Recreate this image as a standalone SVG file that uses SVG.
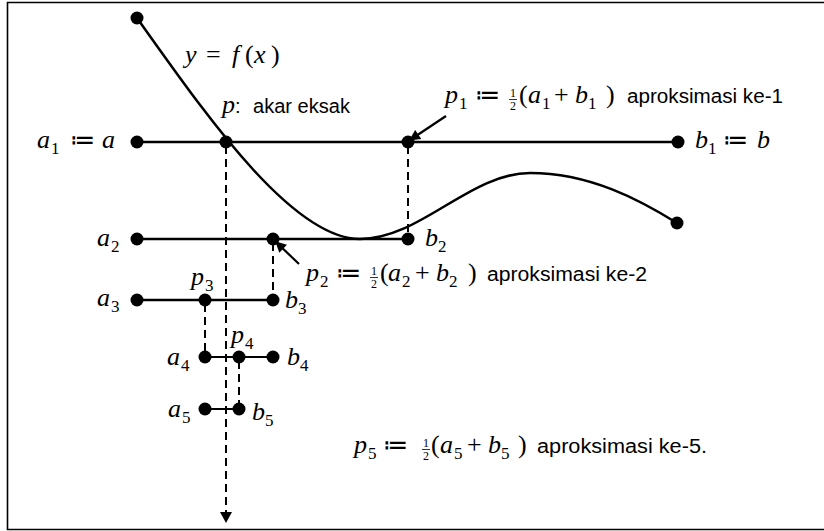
<svg xmlns="http://www.w3.org/2000/svg" width="824" height="531" viewBox="0 0 824 531">
<defs>
<style>
.mi{font-family:"Liberation Serif","DejaVu Serif",serif;font-style:italic;font-size:26px;fill:#000}
.mn{font-family:"Liberation Serif","DejaVu Serif",serif;font-size:26px;fill:#000}
.ce{font-family:"DejaVu Sans","DejaVu Serif",sans-serif;font-size:25px;fill:#000}
.sb{font-family:"Liberation Serif","DejaVu Serif",serif;font-size:17px;fill:#000}
.fr{font-family:"Liberation Serif","DejaVu Serif",serif;font-size:12px;fill:#000}
.s{font-family:"Liberation Sans",Arial,sans-serif;font-size:20px;fill:#000}
.ln{stroke:#000;stroke-width:2.5;fill:none}
.ln2{stroke:#000;stroke-width:2.2;fill:none}
.ds{stroke:#000;stroke-width:2;stroke-dasharray:8 5;fill:none}
.ar{stroke:#000;stroke-width:2.2;fill:none;marker-end:url(#ah)}
.fb{stroke:#000;stroke-width:0.8}
</style>
<marker id="ah" viewBox="0 0 10 10" refX="9" refY="5" markerWidth="13" markerHeight="11" markerUnits="userSpaceOnUse" orient="auto">
<path d="M0,0 L10,5 L0,10 z" fill="#000"/>
</marker>
</defs>
<rect x="0" y="0" width="824" height="531" fill="#fff"/>
<path d="M830,2.5 H7.5 V529.5 H830" fill="none" stroke="#000" stroke-width="1.6"/>

<g id="curve">
<path class="ln" d="M137,18 C200,106 290,239 360,239 C420,239 470,173 530,173 C590,173 640,200 677,223"/>
</g>

<g id="intervals">
<line class="ln" x1="137" y1="142" x2="678" y2="142"/>
<line class="ln" x1="137" y1="239" x2="408" y2="239"/>
<line class="ln" x1="137" y1="300" x2="273" y2="300"/>
<line class="ln2" x1="205" y1="357" x2="273" y2="357"/>
<line class="ln2" x1="205" y1="409" x2="239" y2="409"/>
</g>

<g id="connectors">
<line class="ds" x1="226" y1="146" x2="226" y2="512"/>
<path d="M220,512 L232,512 L226,523 z" fill="#000"/>
<line class="ds" x1="408" y1="146" x2="408" y2="236"/>
<line class="ds" x1="273" y1="243" x2="273" y2="297"/>
<line class="ds" x1="205" y1="304" x2="205" y2="354"/>
<line class="ds" x1="239" y1="361" x2="239" y2="406"/>
<line class="ar" x1="446" y1="116" x2="410" y2="140"/>
<line class="ar" x1="299" y1="264" x2="276" y2="242"/>
</g>

<g id="dots" fill="#000">
<circle cx="137" cy="18" r="6.5"/>
<circle cx="677" cy="223" r="6.5"/>
<circle cx="137" cy="142" r="6.5"/>
<circle cx="226" cy="142" r="6.5"/>
<circle cx="408" cy="142" r="6.5"/>
<circle cx="678" cy="142" r="6.5"/>
<circle cx="137" cy="239" r="6.5"/>
<circle cx="273" cy="239" r="6.5"/>
<circle cx="408" cy="239" r="6.5"/>
<circle cx="137" cy="300" r="6.5"/>
<circle cx="205" cy="300" r="6.5"/>
<circle cx="273" cy="300" r="6.5"/>
<circle cx="205" cy="357" r="6.5"/>
<circle cx="239" cy="357" r="6.5"/>
<circle cx="273" cy="357" r="6.5"/>
<circle cx="205" cy="409" r="6.5"/>
<circle cx="239" cy="409" r="6.5"/>
</g>

<g id="label-fx">
<text class="mi" x="185" y="63">y</text>
<text class="mn" x="206" y="63">=</text>
<text class="mi" x="232" y="63">f</text>
<text class="mn" x="245" y="63">(</text>
<text class="mi" x="254" y="63">x</text>
<text class="mn" x="271" y="63">)</text>
</g>

<g id="label-p">
<text class="mi" x="222" y="113">p</text>
<text class="s" x="235" y="113">:</text>
<text class="s" x="253" y="113" textLength="97" lengthAdjust="spacingAndGlyphs">akar eksak</text>
</g>

<g id="label-a1">
<text class="mi" x="37" y="148">a</text>
<text class="sb" x="51" y="154">1</text>
<text class="ce" x="70" y="148">≔</text>
<text class="mi" x="102" y="148">a</text>
</g>

<g id="label-b1">
<text class="mi" x="695" y="148">b</text>
<text class="sb" x="708" y="154">1</text>
<text class="ce" x="723" y="148">≔</text>
<text class="mi" x="757" y="148">b</text>
</g>

<g id="label-p1">
<text class="mi" x="445" y="103">p</text>
<text class="sb" x="459" y="109">1</text>
<text class="ce" x="475" y="103">≔</text>
<text class="fr" x="510" y="97">1</text>
<line class="fb" x1="509" y1="99.5" x2="517" y2="99.5"/>
<text class="fr" x="510" y="110">2</text>
<text class="mn" x="519" y="103">(</text>
<text class="mi" x="528" y="103">a</text>
<text class="sb" x="542" y="109">1</text>
<text class="mn" x="554" y="103">+</text>
<text class="mi" x="575" y="103">b</text>
<text class="sb" x="588" y="109">1</text>
<text class="mn" x="606" y="103">)</text>
<text class="s" x="627" y="103" textLength="156" lengthAdjust="spacingAndGlyphs">aproksimasi ke-1</text>
</g>

<g id="label-a2">
<text class="mi" x="97" y="246">a</text>
<text class="sb" x="111" y="252">2</text>
</g>
<g id="label-b2">
<text class="mi" x="425" y="246">b</text>
<text class="sb" x="438" y="252">2</text>
</g>

<g id="label-p2">
<text class="mi" x="306" y="281">p</text>
<text class="sb" x="320" y="287">2</text>
<text class="ce" x="336" y="281">≔</text>
<text class="fr" x="371" y="275">1</text>
<line class="fb" x1="370" y1="277.5" x2="378" y2="277.5"/>
<text class="fr" x="371" y="288">2</text>
<text class="mn" x="380" y="281">(</text>
<text class="mi" x="388" y="281">a</text>
<text class="sb" x="402" y="287">2</text>
<text class="mn" x="415" y="281">+</text>
<text class="mi" x="436" y="281">b</text>
<text class="sb" x="449" y="287">2</text>
<text class="mn" x="468" y="281">)</text>
<text class="s" x="487" y="281" textLength="160" lengthAdjust="spacingAndGlyphs">aproksimasi ke-2</text>
</g>

<g id="label-p3">
<text class="mi" x="191" y="285">p</text>
<text class="sb" x="205" y="291">3</text>
</g>
<g id="label-a3">
<text class="mi" x="97" y="306">a</text>
<text class="sb" x="111" y="312">3</text>
</g>
<g id="label-b3">
<text class="mi" x="285" y="308">b</text>
<text class="sb" x="298" y="314">3</text>
</g>

<g id="label-p4">
<text class="mi" x="231" y="343">p</text>
<text class="sb" x="245" y="349">4</text>
</g>
<g id="label-a4">
<text class="mi" x="167" y="365">a</text>
<text class="sb" x="181" y="371">4</text>
</g>
<g id="label-b4">
<text class="mi" x="287" y="365">b</text>
<text class="sb" x="300" y="371">4</text>
</g>

<g id="label-a5">
<text class="mi" x="168" y="417">a</text>
<text class="sb" x="182" y="423">5</text>
</g>
<g id="label-b5">
<text class="mi" x="252" y="420">b</text>
<text class="sb" x="265" y="426">5</text>
</g>

<g id="label-p5">
<text class="mi" x="354" y="453">p</text>
<text class="sb" x="368" y="459">5</text>
<text class="ce" x="383" y="453">≔</text>
<text class="fr" x="423" y="447">1</text>
<line class="fb" x1="422" y1="449.5" x2="430" y2="449.5"/>
<text class="fr" x="423" y="460">2</text>
<text class="mn" x="431" y="453">(</text>
<text class="mi" x="440" y="453">a</text>
<text class="sb" x="454" y="459">5</text>
<text class="mn" x="467" y="453">+</text>
<text class="mi" x="488" y="453">b</text>
<text class="sb" x="501" y="459">5</text>
<text class="mn" x="518" y="453">)</text>
<text class="s" x="537" y="453" textLength="170" lengthAdjust="spacingAndGlyphs">aproksimasi ke-5.</text>
</g>
</svg>
